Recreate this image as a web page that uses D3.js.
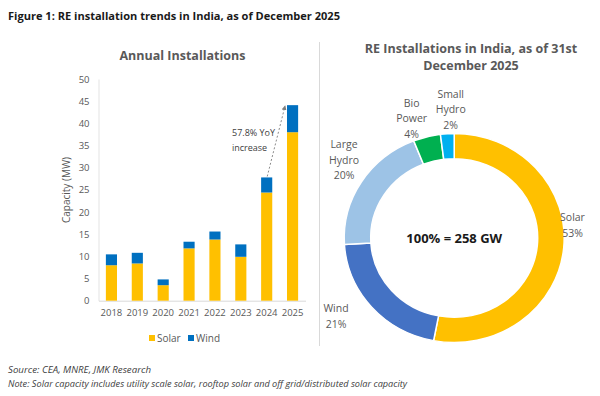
<!DOCTYPE html>
<meta charset="utf-8">
<style>
    body { margin: 0; background: #fff; }
    text { font-family: "Open Sans", sans-serif; }
    .tick text { fill: #595959; font-size: 9.5px; }
</style>
<svg width="600" height="396"></svg>
<script src="https://d3js.org/d3.v7.min.js"></script>
<script>
    // bar chart data (GW)
    var years = ["2018", "2019", "2020", "2021", "2022", "2023", "2024", "2025"];
    var solar = [8.0, 8.4, 3.5, 11.8, 13.8, 9.9, 24.4, 38.0];
    var wind  = [2.45, 2.4, 1.3, 1.5, 1.8, 2.8, 3.4, 6.1];
    var yTicks = [0, 5, 10, 15, 20, 25, 30, 35, 40, 45, 50];

    // donut data
    var sources = ["Solar", "Wind", "Large Hydro", "Bio Power", "Small Hydro"];
    var shares  = [53, 21, 20, 4, 2];
    var pieColors = ["#FFC000", "#4472C4", "#9DC3E6", "#00B050", "#00B0F0"];

    var svg = d3.select("svg");

    svg.append("text")
        .attr("x", 8).attr("y", 20)
        .attr("font-family", "'DejaVu Sans', sans-serif")
        .attr("font-size", 10.6).attr("font-weight", 700)
        .attr("fill", "#1a1a1a")
        .attr("textLength", 332).attr("lengthAdjust", "spacingAndGlyphs")
        .text("Figure 1: RE installation trends in India, as of December 2025");

    // ---------- bar chart ----------
    var x = d3.scaleBand().domain(years).range([98.5, 305.5]).paddingInner(0.57).paddingOuter(0.285);
    var y = d3.scaleLinear().domain([0, 50]).range([300.7, 79]);

    var gb = svg.append("g");

    gb.append("text")
        .attr("x", 182.5).attr("y", 60)
        .attr("text-anchor", "middle")
        .attr("font-size", 12.5).attr("font-weight", 700)
        .attr("fill", "#595959")
        .text("Annual Installations");

    var yAxis = gb.append("g")
        .attr("transform", "translate(98.5,0)")
        .call(d3.axisLeft(y).tickValues(yTicks).tickSize(0).tickPadding(9));
    yAxis.select(".domain").attr("stroke", "#e3e3e3");

    var xAxis = gb.append("g")
        .attr("transform", "translate(0,300.7)")
        .call(d3.axisBottom(x).tickSize(0).tickPadding(9));
    xAxis.select(".domain").attr("stroke", "#d9d9d9");

    gb.append("text")
        .attr("transform", "translate(70,190) rotate(-90)")
        .attr("text-anchor", "middle")
        .attr("font-size", 10).attr("fill", "#595959")
        .text("Capacity (MW)");

    var rows = years.map(function(yr, i) { return { year: yr, solar: solar[i], wind: wind[i] }; });
    var stack = d3.stack().keys(["solar", "wind"])(rows);
    var barColor = { solar: "#FFC000", wind: "#0070C0" };

    gb.selectAll("g.series")
        .data(stack)
        .enter().append("g")
        .attr("fill", function(d) { return barColor[d.key]; })
        .selectAll("rect")
        .data(function(d) { return d; })
        .enter().append("rect")
        .attr("x", function(d) { return x(d.data.year); })
        .attr("width", x.bandwidth())
        .attr("y", function(d) { return y(d[1]); })
        .attr("height", function(d) { return y(d[0]) - y(d[1]); });

    // YoY annotation
    var defs = svg.append("defs");
    defs.append("marker")
        .attr("id", "arrow")
        .attr("viewBox", "0 0 10 10")
        .attr("refX", 8).attr("refY", 5)
        .attr("markerWidth", 5).attr("markerHeight", 5)
        .attr("orient", "auto")
        .append("path").attr("d", "M0,0L10,5L0,10z").attr("fill", "#7f7f7f");

    var i24 = 6, i25 = 7;
    gb.append("line")
        .attr("x1", x(years[i24]) + x.bandwidth() * 0.55)
        .attr("y1", y(solar[i24] + wind[i24]) - 1)
        .attr("x2", x(years[i25]) - 2)
        .attr("y2", y(solar[i25] + wind[i25]) + 1)
        .attr("stroke", "#8c8c8c").attr("stroke-width", 1)
        .attr("stroke-dasharray", "2,2")
        .attr("marker-end", "url(#arrow)");

    var ann = gb.append("text")
        .attr("x", 232).attr("font-size", 9).attr("fill", "#404040");
    ann.append("tspan").attr("x", 232).attr("y", 136).text("57.8% YoY");
    ann.append("tspan").attr("x", 232).attr("y", 151).text("increase");

    // legend
    var legend = gb.append("g").attr("transform", "translate(0,338)");
    [["Solar", "#FFC000", 149], ["Wind", "#0070C0", 188]].forEach(function(l) {
        legend.append("rect").attr("x", l[2]).attr("y", -3).attr("width", 6).attr("height", 6).attr("fill", l[1]);
        legend.append("text").attr("x", l[2] + 8).attr("y", 3.5)
            .attr("font-size", 10).attr("fill", "#595959").text(l[0]);
    });

    // divider
    svg.append("line")
        .attr("x1", 319.5).attr("x2", 319.5).attr("y1", 42).attr("y2", 346)
        .attr("stroke", "#d9d9d9").attr("stroke-width", 1);

    // ---------- donut ----------
    var cx = 454.2, cy = 238;
    svg.append("text")
        .attr("x", 471).attr("text-anchor", "middle")
        .attr("font-size", 12.5).attr("font-weight", 700).attr("fill", "#595959")
        .selectAll("tspan")
        .data(["RE Installations in India, as of 31st", "December 2025"])
        .enter().append("tspan")
        .attr("x", 471)
        .attr("y", function(d, i) { return 53 + i * 17; })
        .text(function(d) { return d; });

    var pieData = d3.pie().sort(null).value(function(d) { return d; })(shares);
    var arc = d3.arc().innerRadius(83.5).outerRadius(110);

    var gp = svg.append("g").attr("transform", "translate(" + cx + "," + cy + ") scale(1,0.95)");
    gp.selectAll("path")
        .data(pieData)
        .enter().append("path")
        .attr("d", arc)
        .attr("fill", function(d, i) { return pieColors[i]; })
        .attr("stroke", "#fff").attr("stroke-width", 1.5);

    svg.append("text")
        .attr("x", cx).attr("y", cy + 5)
        .attr("text-anchor", "middle")
        .attr("font-size", 13).attr("font-weight", 700).attr("fill", "#1a1a1a")
        .text("100% = 258 GW");

    // slice labels: [lines, centre x, first baseline]
    var labelPos = [
        [["Solar", "53%"], 572.5, 221],
        [["Wind", "21%"], 336, 312],
        [["Large", "Hydro", "20%"], 344, 148],
        [["Bio", "Power", "4%"], 411.7, 106.5],
        [["Small", "Hydro", "2%"], 450.7, 97.5]
    ];
    labelPos.forEach(function(lp, i) {
        var lines = lp[0].slice(0, -1).concat([shares[i] + "%"]);
        svg.append("text")
            .attr("text-anchor", "middle")
            .attr("font-size", 10.5).attr("fill", "#595959")
            .selectAll("tspan")
            .data(lines)
            .enter().append("tspan")
            .attr("x", lp[1])
            .attr("y", function(d, j) { return lp[2] + j * 15.7; })
            .text(function(d) { return d; });
    });

    // footnotes
    var foot = svg.append("g")
        .attr("font-family", "'DejaVu Sans', sans-serif")
        .attr("font-size", 8.4).attr("font-style", "italic").attr("fill", "#404040");
    foot.append("text").attr("x", 8).attr("y", 373)
        .attr("textLength", 143).attr("lengthAdjust", "spacingAndGlyphs")
        .text("Source: CEA, MNRE, JMK Research");
    foot.append("text").attr("x", 8).attr("y", 386.5)
        .attr("textLength", 399).attr("lengthAdjust", "spacingAndGlyphs")
        .text("Note: Solar capacity includes utility scale solar, rooftop solar and off grid/distributed solar capacity");
</script>
